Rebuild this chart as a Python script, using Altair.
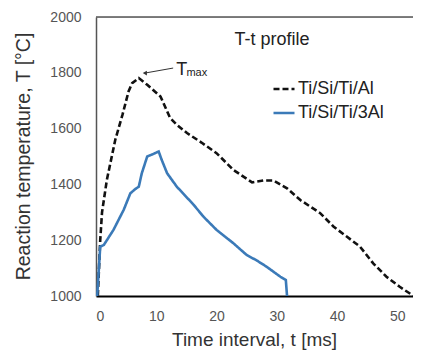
import altair as alt
import pandas as pd

# Ti/Si/Ti/Al (dashed)
t_al = [0.3, 0.7, 1.0, 1.8, 3.2, 4.4, 5.4, 6.0, 7.1, 8.5, 10.7, 12.3, 13.4, 15.1, 17.5, 20.0,
        22.8, 25.9, 27.8, 29.4, 31.7, 33.9, 37.2, 39.4, 41.6, 43.8, 46.0, 48.2, 50.4, 52.7]
T_al = [1000, 1200, 1300, 1416, 1560, 1650, 1733, 1763, 1781, 1757, 1715, 1638, 1614, 1584, 1550, 1512,
        1452, 1407, 1414, 1414, 1386, 1344, 1297, 1249, 1213, 1177, 1117, 1069, 1033, 1000]

# Ti/Si/Ti/3Al (solid)
t_3al = [0.2, 0.7, 1.3, 2.9, 4.6, 5.7, 6.5, 7.1, 7.6, 8.5, 9.6, 10.4, 10.9, 11.8, 13.4, 16.2,
         17.8, 20.0, 22.8, 25.0, 26.7, 28.3, 30.6, 31.5, 31.7]
T_3al = [1000, 1177, 1183, 1237, 1309, 1368, 1383, 1392, 1440, 1500, 1510, 1518, 1488, 1440, 1392, 1327,
         1285, 1237, 1189, 1147, 1127, 1105, 1069, 1057, 1000]

series = ["Ti/Si/Ti/Al", "Ti/Si/Ti/3Al"]
x_ticks = [0, 10, 20, 30, 40, 50]
y_ticks = [1000, 1200, 1400, 1600, 1800, 2000]

# annotation (T_max arrow)
arrow_t = [12.8, 8.1]
arrow_T = [1817, 1799]
label_t = [13.3, 15.0]
label_T = [1792, 1789]
label_txt = ["T", "max"]
label_size = [18, 11]
title_txt = ["T-t profile"]

rows = []
for t, T in zip(t_al, T_al):
    rows.append({"t": t, "T": T, "s": series[0]})
for t, T in zip(t_3al, T_3al):
    rows.append({"t": t, "T": T, "s": series[1]})
df = pd.DataFrame(rows)
df["o"] = range(len(df))

FONT = "Liberation Sans"
W, H = 317, 279

xs = alt.Scale(domain=[0, 52.6], nice=False, zero=False)
ys = alt.Scale(domain=[1000, 2000], nice=False, zero=False)

leg = dict(title=None, orient="none", legendX=176, legendY=60,
           symbolType="stroke", symbolSize=441, symbolStrokeWidth=2.5,
           labelFont=FONT, labelFontSize=18, labelColor="#222222",
           labelOffset=2, rowPadding=3, padding=0)

lines = alt.Chart(df).mark_line(strokeWidth=2.6, clip=True).encode(
    x=alt.X("t:Q", scale=xs, axis=alt.Axis(
        title="Time interval, t [ms]", values=x_ticks, format="d", grid=False, ticks=False,
        domainColor="#000000", domainWidth=2, labelFont=FONT, labelFontSize=14,
        labelColor="#555555", labelPadding=13, titleFont=FONT, titleFontSize=19,
        titleFontWeight="normal", titleColor="#333333", titleY=49, titleX=158,
        titleBaseline="alphabetic")),
    y=alt.Y("T:Q", scale=ys, axis=alt.Axis(
        title="Reaction temperature, T [°C]", values=y_ticks, format="d", grid=False, ticks=False,
        domainColor="#555555", domainWidth=1.5, labelFont=FONT, labelFontSize=14,
        labelColor="#555555", labelPadding=15, titleFont=FONT, titleFontSize=19.5,
        titleFontWeight="normal", titleColor="#333333", titleX=-67, titleY=139,
        titleAngle=-90, titleAlign="center", titleBaseline="alphabetic")),
    color=alt.Color("s:N", scale=alt.Scale(domain=series, range=["#111111", "#3b7ab8"]),
                    legend=alt.Legend(**leg)),
    strokeDash=alt.StrokeDash("s:N", scale=alt.Scale(domain=series, range=[[6, 3], [1, 0]]),
                              legend=alt.Legend(**leg)),
    order="o:Q",
)

top_frame = alt.Chart(pd.DataFrame({"a": [0]})).mark_rule(color="#555555", strokeWidth=1.5).encode(
    x=alt.value(0), x2=alt.value(W), y=alt.value(0))

title = alt.Chart(pd.DataFrame({"txt": title_txt})).mark_text(
    font=FONT, fontSize=18, color="#222222", align="center", baseline="alphabetic").encode(
    x=alt.value(176), y=alt.value(28), text="txt:N")

arrow_df = pd.DataFrame({"t": arrow_t, "T": arrow_T})
arrow = alt.Chart(arrow_df).mark_line(color="#333333", strokeWidth=1).encode(
    x=alt.X("t:Q", scale=xs), y=alt.Y("T:Q", scale=ys))
head = alt.Chart(arrow_df.iloc[[1]]).mark_point(shape="triangle-left", filled=True, color="#333333",
                                                size=22, opacity=1).encode(
    x=alt.X("t:Q", scale=xs), y=alt.Y("T:Q", scale=ys))

lab_df = pd.DataFrame({"t": label_t, "T": label_T, "txt": label_txt, "sz": label_size})
labels = alt.Chart(lab_df).mark_text(align="left", baseline="alphabetic", font=FONT,
                                     color="#222222").encode(
    x=alt.X("t:Q", scale=xs), y=alt.Y("T:Q", scale=ys), text="txt:N",
    size=alt.Size("sz:Q", scale=None, legend=None))

chart = alt.layer(top_frame, lines, arrow, head, labels, title).properties(
    width=W, height=H,
    padding={"left": 88, "top": 9, "right": 0, "bottom": 54},
    autosize=alt.AutoSizeParams(type="none"),
).configure_view(stroke=None).configure(background="white")

chart.save("out.html", embed_options={"renderer": "svg", "actions": False})
